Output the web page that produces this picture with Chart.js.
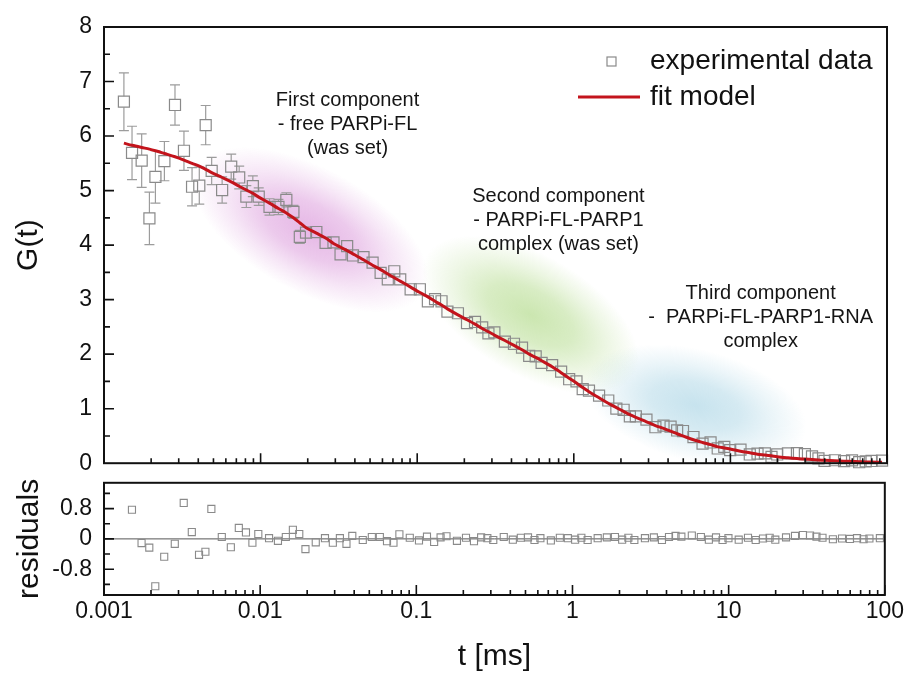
<!DOCTYPE html>
<html>
<head>
<meta charset="utf-8">
<title>FCS autocorrelation fit</title>
<script src="https://cdn.jsdelivr.net/npm/chart.js@4.4.1/dist/chart.umd.min.js"></script>
<style>
  html, body { margin: 0; padding: 0; background: #fff; }
  #wrap { position: relative; width: 907px; height: 675px; }
  #mainChart { position: absolute; left: 0; top: 0; }
  #residChart { position: absolute; left: 0; top: 457px; }
</style>
</head>
<body>
<div id="wrap">
  <canvas id="mainChart" width="907" height="489"></canvas>
  <canvas id="residChart" width="907" height="218"></canvas>
</div>
<script>
const FONT = "'Liberation Sans', Arial, Helvetica, sans-serif";

// lag times, ms (multi-tau grid)
const lagTimes = [
  0.00134, 0.00151, 0.00174, 0.00195, 0.00213,
  0.00243, 0.00284, 0.00324, 0.00365, 0.00406, 0.00446,
  0.00487, 0.00568, 0.00649, 0.0073, 0.00811, 0.00892,
  0.00973, 0.0114, 0.013, 0.0146, 0.0162, 0.0178,
  0.0195, 0.0227, 0.026, 0.0292, 0.0324, 0.0357,
  0.0389, 0.0454, 0.0519, 0.0584, 0.0649, 0.0714,
  0.0779, 0.0908, 0.104, 0.117, 0.13, 0.143,
  0.156, 0.182, 0.208, 0.234, 0.26, 0.285,
  0.311, 0.363, 0.415, 0.467, 0.519, 0.571,
  0.623, 0.727, 0.83, 0.934, 1.04, 1.14,
  1.25, 1.45, 1.66, 1.87, 2.08, 2.28,
  2.49, 2.91, 3.32, 3.74, 4.15, 4.57,
  4.98, 5.81, 6.64, 7.47, 8.3, 9.14,
  9.97, 11.6, 13.3, 14.9, 16.6, 18.3,
  19.9, 23.3, 26.6, 29.9, 33.2, 36.5,
  39.9, 46.5, 53.2, 59.8, 66.4, 73.1,
  79.7, 93.0
];

// measured G(t)
const correlation = [
  6.63, 5.69, 5.55, 4.49, 5.25, 5.54, 6.57, 5.73, 5.07, 5.09,
  6.20, 5.36, 5.01, 5.44, 5.24, 4.89, 5.08, 4.89, 4.70, 4.70,
  4.83, 4.61, 4.15, 4.23, 4.24, 4.04, 4.05, 3.83, 3.98, 3.81,
  3.78, 3.68, 3.49, 3.37, 3.52, 3.37, 3.19, 3.19, 2.97, 3.01,
  2.97, 2.78, 2.75, 2.57, 2.59, 2.49, 2.38, 2.40, 2.23, 2.19,
  2.12, 1.97, 1.96, 1.84, 1.80, 1.68, 1.54, 1.50, 1.36, 1.33,
  1.24, 1.15, 1.00, 0.98, 0.86, 0.86, 0.80, 0.66, 0.69, 0.67,
  0.60, 0.59, 0.48, 0.36, 0.38, 0.27, 0.30, 0.24, 0.25, 0.16,
  0.175, 0.18, 0.115, 0.16, 0.18, 0.185, 0.165, 0.126, 0.088, 0.042,
  0.054, 0.037, 0.052, 0.018, 0.034, 0.041, 0.047
];

// standard deviation of each G(t) point
const correlationErr = [
  0.53, 0.49, 0.49, 0.48, 0.48, 0.36, 0.37, 0.36, 0.35, 0.34,
  0.36, 0.25, 0.24, 0.23, 0.21, 0.20, 0.19, 0.16, 0.15, 0.14,
  0.13, 0.12, 0.12, 0.10, 0.10, 0.09, 0.09, 0.08, 0.08, 0.07,
  0.07, 0.06, 0.06, 0.06, 0.05,
  0.05, 0.05, 0.05, 0.05, 0.05, 0.05, 0.05, 0.05, 0.05, 0.05,
  0.04, 0.04, 0.04, 0.04, 0.04, 0.04, 0.04, 0.04, 0.04, 0.04, 0.04, 0.04,
  0.03, 0.03, 0.03, 0.03, 0.03, 0.03, 0.03, 0.03, 0.03, 0.03, 0.03, 0.03, 0.03, 0.03,
  0.02, 0.02, 0.02, 0.02, 0.02, 0.02, 0.02, 0.02, 0.02, 0.02, 0.02, 0.02, 0.02, 0.02,
  0.015, 0.015, 0.015, 0.015, 0.015, 0.015, 0.015, 0.015, 0.015, 0.015, 0.015, 0.015
];

// three-component diffusion model at the same lags
const fitCurve = [
  5.87, 5.83, 5.79, 5.76, 5.73, 5.68, 5.62, 5.56, 5.50, 5.45,
  5.39, 5.33, 5.24, 5.16, 5.08, 5.01, 4.95, 4.88, 4.77, 4.67,
  4.59, 4.50, 4.41, 4.32, 4.22, 4.13,
  4.03, 3.96, 3.90, 3.84, 3.73, 3.63, 3.55, 3.47, 3.40, 3.34,
  3.23, 3.13, 3.05, 2.97, 2.90, 2.83, 2.72, 2.63, 2.55, 2.47,
  2.41, 2.35, 2.25, 2.16, 2.08, 2.00, 1.94, 1.88, 1.77, 1.66,
  1.56, 1.47, 1.39, 1.31, 1.20, 1.10, 1.02, 0.95, 0.89, 0.84,
  0.76, 0.69, 0.64, 0.59, 0.54, 0.50, 0.43, 0.38, 0.34, 0.30,
  0.28, 0.26, 0.22, 0.19, 0.165, 0.15, 0.135, 0.12, 0.10, 0.085,
  0.075, 0.066, 0.058, 0.052, 0.044, 0.037, 0.032, 0.028, 0.024, 0.021,
  0.017
];

// residuals as exported (first lag has none)
const residuals = [
  null,
  0.77, -0.11, -0.23, -1.25, -0.47, -0.13, 0.95, 0.18, -0.42, -0.34,
  0.79, 0.05, -0.22, 0.29, 0.17, -0.10, 0.13, 0.02, -0.05, 0.05,
  0.24, 0.13, -0.27, -0.09, 0.02, -0.10, 0.02, -0.13, 0.08, -0.03,
  0.05, 0.05,
  -0.06, -0.10, 0.12, 0.03, -0.04, 0.06, -0.08, 0.04, 0.07, -0.05,
  0.03, -0.06, 0.04, 0.02, -0.03, 0.05, -0.02, 0.03, 0.04, -0.03,
  0.02, -0.04, 0.03, 0.02, -0.02, 0.03, -0.03, 0.02, 0.04, 0.05,
  -0.02, 0.03, -0.03, 0.02, 0.04, -0.03, 0.05, 0.08, 0.06, 0.09,
  0.05, -0.02, 0.04, -0.03, 0.02, -0.02, 0.03, -0.03, 0.01, 0.03,
  -0.02, 0.04, 0.08, 0.10, 0.09, 0.06, 0.03, -0.01, 0.01, 0.00,
  0.02, -0.01, 0.01, 0.02
];

const xTicks = [0.001, 0.01, 0.1, 1, 10, 100];
const xTickLabels = ['0.001', '0.01', '0.1', '1', '10', '100'];
const gTicks = [0, 1, 2, 3, 4, 5, 6, 7, 8];
const residTicks = [-0.8, 0, 0.8];
const residTickLabels = ['-0.8', '0', '0.8'];

// text notes, anchored at (t, G) of their middle line
const componentNotes = [
  { t: 0.0359, g: 6.22, lines: ['First component', '- free PARPi-FL', '(was set)'] },
  { t: 0.798, g: 4.46, lines: ['Second component', '- PARPi-FL-PARP1', 'complex (was set)'] },
  { t: 15.6, g: 2.68, lines: ['Third component', '-  PARPi-FL-PARP1-RNA', 'complex'] }
];

// soft coloured halos marking each diffusion regime
const componentHalos = [
  { t: 0.0208, g: 4.28, rx: 130, ry: 62, angle: 0.50, rgb: '195,85,195', alpha: 0.42 },
  { t: 0.529, g: 2.72, rx: 120, ry: 60, angle: 0.52, rgb: '140,200,80', alpha: 0.45 },
  { t: 5.98, g: 1.06, rx: 114, ry: 56, angle: 0.25, rgb: '115,185,212', alpha: 0.40 }
];

Chart.defaults.font.family = FONT;
Chart.defaults.color = '#111';

const haloPlugin = {
  id: 'halos',
  beforeDatasetsDraw(chart) {
    const { ctx, scales: { x, y } } = chart;
    componentHalos.forEach(h => {
      ctx.save();
      ctx.translate(x.getPixelForValue(h.t), y.getPixelForValue(h.g));
      ctx.rotate(h.angle);
      ctx.scale(h.rx, h.ry);
      const grad = ctx.createRadialGradient(0, 0, 0, 0, 0, 1);
      grad.addColorStop(0, `rgba(${h.rgb},${h.alpha})`);
      grad.addColorStop(0.4, `rgba(${h.rgb},${h.alpha * 0.75})`);
      grad.addColorStop(0.7, `rgba(${h.rgb},${h.alpha * 0.35})`);
      grad.addColorStop(1, `rgba(${h.rgb},0)`);
      ctx.fillStyle = grad;
      ctx.beginPath();
      ctx.arc(0, 0, 1, 0, Math.PI * 2);
      ctx.fill();
      ctx.restore();
    });
  }
};

const errorBarPlugin = {
  id: 'errorBars',
  beforeDatasetsDraw(chart) {
    const { ctx, scales: { x, y } } = chart;
    const half = 5.5, cap = 5;
    ctx.save();
    ctx.strokeStyle = '#9c9c9c';
    ctx.lineWidth = 1.2;
    ctx.beginPath();
    lagTimes.forEach((t, i) => {
      const px = x.getPixelForValue(t);
      const py = y.getPixelForValue(correlation[i]);
      const top = y.getPixelForValue(correlation[i] + correlationErr[i]);
      const bot = y.getPixelForValue(correlation[i] - correlationErr[i]);
      if (py - top <= half) return;
      ctx.moveTo(px, top); ctx.lineTo(px, py - half);
      ctx.moveTo(px, py + half); ctx.lineTo(px, bot);
      ctx.moveTo(px - cap, top); ctx.lineTo(px + cap, top);
      ctx.moveTo(px - cap, bot); ctx.lineTo(px + cap, bot);
    });
    ctx.stroke();
    ctx.restore();
  }
};

// box around the plot with inward tick marks
const framePlugin = {
  id: 'frame',
  afterDatasetsDraw(chart, args, opts) {
    const { ctx, chartArea: a, scales: { x, y } } = chart;
    ctx.save();
    ctx.strokeStyle = '#111';
    ctx.lineWidth = 2;
    ctx.strokeRect(a.left, a.top, a.right - a.left, a.bottom - a.top);
    ctx.lineWidth = 1.6;
    ctx.beginPath();
    for (let e = -3; e <= 2; e++) {
      for (let m = 1; m <= 9; m++) {
        const v = m * Math.pow(10, e);
        if (v > 100.001) break;
        const px = x.getPixelForValue(v);
        ctx.moveTo(px, a.bottom);
        ctx.lineTo(px, a.bottom - (m === 1 ? 10 : 5));
      }
    }
    opts.yMajor.forEach(v => {
      const py = y.getPixelForValue(v);
      ctx.moveTo(a.left, py); ctx.lineTo(a.left + 10, py);
    });
    opts.yMinor.forEach(v => {
      const py = y.getPixelForValue(v);
      ctx.moveTo(a.left, py); ctx.lineTo(a.left + 6, py);
    });
    ctx.stroke();
    ctx.restore();
  }
};

const notesPlugin = {
  id: 'notes',
  afterDatasetsDraw(chart) {
    const { ctx, scales: { x, y } } = chart;
    ctx.save();
    ctx.font = `20px ${FONT}`;
    ctx.fillStyle = '#151515';
    ctx.textAlign = 'center';
    ctx.textBaseline = 'middle';
    componentNotes.forEach(n => {
      const px = x.getPixelForValue(n.t), py = y.getPixelForValue(n.g);
      n.lines.forEach((line, k) => ctx.fillText(line, px, py + (k - 1) * 24));
    });
    ctx.restore();
  }
};

const legendPlugin = {
  id: 'fcsLegend',
  afterDraw(chart) {
    const { ctx, chartArea: a } = chart;
    const [fit, data] = chart.data.datasets;
    const tx = a.right - 237, y1 = a.top + 34, y2 = a.top + 70;
    ctx.save();
    ctx.strokeStyle = data.borderColor;
    ctx.lineWidth = 1.2;
    ctx.strokeRect(tx - 43, y1 - 4, 9, 9);
    ctx.strokeStyle = fit.borderColor;
    ctx.lineWidth = 3;
    ctx.beginPath();
    ctx.moveTo(tx - 72, y2);
    ctx.lineTo(tx - 10, y2);
    ctx.stroke();
    ctx.fillStyle = '#111';
    ctx.font = `28px ${FONT}`;
    ctx.textBaseline = 'middle';
    ctx.fillText(data.label, tx, y1);
    ctx.fillText(fit.label, tx, y2);
    ctx.restore();
  }
};

const yAxisBase = {
  afterFit: s => { s.width = 104; },
  grid: { display: false, drawTicks: false },
  border: { display: false },
};

new Chart(document.getElementById('mainChart'), {
  type: 'scatter',
  data: {
    datasets: [
      {
        label: 'fit model',
        data: lagTimes.map((t, i) => ({ x: t, y: fitCurve[i] })),
        showLine: true,
        borderColor: '#c3141c',
        borderWidth: 3,
        pointRadius: 0,
        tension: 0.3,
        order: 0
      },
      {
        label: 'experimental data',
        data: lagTimes.map((t, i) => ({ x: t, y: correlation[i] })),
        pointStyle: 'rect',
        pointRadius: 7.8,
        borderColor: '#8a8a8a',
        borderWidth: 1.2,
        backgroundColor: 'rgba(0,0,0,0)',
        clip: false,
        order: 1
      }
    ]
  },
  options: {
    responsive: false,
    animation: false,
    devicePixelRatio: 1,
    layout: { padding: { top: 27, right: 20, bottom: 0, left: 0 } },
    plugins: {
      legend: { display: false },
      tooltip: { enabled: false },
      frame: { yMajor: [1, 2, 3, 4, 5, 6, 7], yMinor: [0.5, 1.5, 2.5, 3.5, 4.5, 5.5, 6.5, 7.5] }
    },
    scales: {
      x: { type: 'logarithmic', min: 0.001, max: 100, display: false },
      y: {
        ...yAxisBase,
        min: 0,
        max: 8,
        afterBuildTicks: s => { s.ticks = gTicks.map(v => ({ value: v })); },
        ticks: { padding: 12, font: { size: 23 }, callback: v => String(v) },
        title: { display: true, text: 'G(t)', font: { size: 30 }, padding: { top: 11, bottom: 0 } }
      }
    }
  },
  plugins: [haloPlugin, errorBarPlugin, framePlugin, notesPlugin, legendPlugin]
});

new Chart(document.getElementById('residChart'), {
  type: 'scatter',
  data: {
    datasets: [
      {
        label: 'zero',
        data: [{ x: 0.001, y: 0 }, { x: 100, y: 0 }],
        showLine: true,
        borderColor: '#555',
        borderWidth: 1,
        pointRadius: 0,
        order: 1
      },
      {
        label: 'residuals',
        data: lagTimes.map((t, i) => ({ x: t, y: residuals[i] })),
        pointStyle: 'rect',
        pointRadius: 5,
        borderColor: '#8a8a8a',
        borderWidth: 1.1,
        backgroundColor: 'rgba(0,0,0,0)',
        clip: false,
        order: 0
      }
    ]
  },
  options: {
    responsive: false,
    animation: false,
    devicePixelRatio: 1,
    layout: { padding: { top: 0, right: 20, bottom: 0, left: 0 } },
    plugins: {
      legend: { display: false },
      tooltip: { enabled: false },
      frame: { yMajor: [-0.8, 0, 0.8], yMinor: [-1.2, -0.4, 0.4, 1.2] }
    },
    scales: {
      x: {
        type: 'logarithmic',
        min: 0.001,
        max: 100,
        afterFit: s => { s.height = 80; },
        afterBuildTicks: s => { s.ticks = xTicks.map(v => ({ value: v })); },
        grid: { display: false, drawTicks: false },
        border: { display: false },
        ticks: {
          padding: 3,
          autoSkip: false,
          maxRotation: 0,
          font: { size: 23 },
          callback: (v, i) => xTickLabels[i]
        },
        title: { display: true, text: 't [ms]', font: { size: 30 }, padding: { top: 0, bottom: 0 } }
      },
      y: {
        ...yAxisBase,
        min: -1.48,
        max: 1.48,
        afterBuildTicks: s => { s.ticks = residTicks.map(v => ({ value: v })); },
        ticks: { padding: 12, font: { size: 23 }, callback: (v, i) => residTickLabels[i] },
        title: { display: true, text: 'residuals', font: { size: 30 }, padding: { top: 12, bottom: 0 } }
      }
    }
  },
  plugins: [framePlugin]
});
</script>
</body>
</html>
